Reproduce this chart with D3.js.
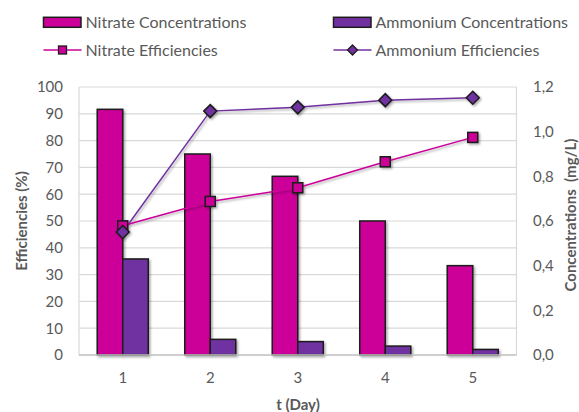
<!DOCTYPE html>
<html><head><meta charset="utf-8">
<script src="https://cdn.jsdelivr.net/npm/d3@7"></script>
<style>body{margin:0;background:#fff}svg{display:block}text{font-family:Lato,"Open Sans",sans-serif}</style>
</head><body>
<svg id="c" width="579" height="412"></svg>
<script>
const days = ["1","2","3","4","5"];
const nitrateConc = [1.10, 0.90, 0.80, 0.60, 0.40];
const ammoniumConc = [0.43, 0.07, 0.06, 0.04, 0.025];
const nitrateEff = [48.2, 57.3, 62.4, 72.1, 81.2];
const ammoniumEff = [45.9, 91.0, 92.4, 95.1, 96.0];
const leftTicks = [0,10,20,30,40,50,60,70,80,90,100];
const rightTicks = [0,0.2,0.4,0.6,0.8,1.0,1.2];

const C_N = "#CC0099", C_A = "#7030A0", TXT = "#595959", GRID = "#d9d9d9", EDGE = "#1c1c1c";
const svg = d3.select("#c");
const defs = svg.append("defs");
const f = defs.append("filter").attr("id","sh").attr("x","-30%").attr("y","-30%").attr("width","160%").attr("height","160%");
f.append("feDropShadow").attr("dx",1.5).attr("dy",1.5).attr("stdDeviation",1.2).attr("flood-color","#000").attr("flood-opacity",0.35);

const L = 79, R = 516.5, T = 87, B = 355;
const x = d3.scaleBand().domain(days).range([L,R]).paddingInner(0.417).paddingOuter(0.2085);
const xs = d3.scaleBand().domain(["n","a"]).range([0, x.bandwidth()]);
const yL = d3.scaleLinear().domain([0,100]).range([B,T]);
const yR = d3.scaleLinear().domain([0,1.2]).range([B,T]);
const loc = d3.formatLocale({decimal:",", thousands:".", grouping:[3], currency:["",""]});
const fR = loc.format(".1f");

// gridlines
svg.append("g").selectAll("line").data(leftTicks.filter(d=>d>0)).join("line")
  .attr("x1",L).attr("x2",R).attr("y1",d=>yL(d)).attr("y2",d=>yL(d))
  .attr("stroke",GRID).attr("stroke-width",1.2);
// plot border
svg.append("line").attr("x1",L).attr("x2",L).attr("y1",T).attr("y2",B).attr("stroke",GRID).attr("stroke-width",1.2);
svg.append("line").attr("x1",R).attr("x2",R).attr("y1",T).attr("y2",B).attr("stroke",GRID).attr("stroke-width",1.2);

// left axis
const gl = svg.append("g").attr("transform",`translate(${L},0)`)
  .call(d3.axisLeft(yL).tickValues(leftTicks).tickSize(0).tickPadding(16));
gl.select(".domain").remove();
gl.selectAll("text").attr("fill",TXT).style("font-size","15px").style("font-family","Lato");
// right axis
const gr = svg.append("g").attr("transform",`translate(${R},0)`)
  .call(d3.axisRight(yR).tickValues(rightTicks).tickFormat(fR).tickSize(0).tickPadding(16.5));
gr.select(".domain").remove();
gr.selectAll("text").attr("fill",TXT).style("font-size","15px").style("font-family","Lato");

// bars
const bars = svg.append("g").attr("filter","url(#sh)");
bars.selectAll("rect.n").data(days).join("rect").attr("class","n")
  .attr("x",d=>x(d)+xs("n")).attr("width",xs.bandwidth())
  .attr("y",(d,i)=>yR(nitrateConc[i])).attr("height",(d,i)=>B-yR(nitrateConc[i]))
  .attr("fill",C_N).attr("stroke",EDGE).attr("stroke-width",1.5);
bars.selectAll("rect.a").data(days).join("rect").attr("class","a")
  .attr("x",d=>x(d)+xs("a")).attr("width",xs.bandwidth())
  .attr("y",(d,i)=>yR(ammoniumConc[i])).attr("height",(d,i)=>B-yR(ammoniumConc[i]))
  .attr("fill",C_A).attr("stroke",EDGE).attr("stroke-width",1.5);

// bottom axis
svg.append("line").attr("x1",L).attr("x2",R).attr("y1",B).attr("y2",B).attr("stroke","#bfbfbf").attr("stroke-width",1.3);
const gb = svg.append("g").attr("transform",`translate(0,${B})`)
  .call(d3.axisBottom(x).tickSize(0).tickPadding(17));
gb.select(".domain").remove();
gb.selectAll("text").attr("fill",TXT).style("font-size","15px").style("font-family","Lato");

// lines
const cx = d => x(d) + x.bandwidth()/2;
const line = d3.line().x(p=>p[0]).y(p=>p[1]);
const gL = svg.append("g").attr("filter","url(#sh)");
gL.append("path").attr("d",line(days.map((d,i)=>[cx(d),yL(ammoniumEff[i])])))
  .attr("fill","none").attr("stroke",C_A).attr("stroke-width",1.5);
gL.append("path").attr("d",line(days.map((d,i)=>[cx(d),yL(nitrateEff[i])])))
  .attr("fill","none").attr("stroke",C_N).attr("stroke-width",1.5);
const sq = 10, dm = 6.5;
gL.selectAll("rect.m").data(days).join("rect").attr("class","m")
  .attr("x",d=>cx(d)-sq/2).attr("y",(d,i)=>yL(nitrateEff[i])-sq/2).attr("width",sq).attr("height",sq)
  .attr("fill",C_N).attr("stroke",EDGE).attr("stroke-width",1.5);
gL.selectAll("path.d").data(days).join("path").attr("class","d")
  .attr("d",(d,i)=>{const X=cx(d),Y=yL(ammoniumEff[i]);return `M${X},${Y-dm}L${X+dm},${Y}L${X},${Y+dm}L${X-dm},${Y}Z`;})
  .attr("fill",C_A).attr("stroke",EDGE).attr("stroke-width",1.5);

// axis titles
svg.append("text").attr("transform","translate(27,221) rotate(-90)").attr("text-anchor","middle")
  .attr("fill",TXT).style("font-size","15px").style("font-weight","bold").text("Efficiencies (%)");
svg.append("text").attr("transform","translate(576,215) rotate(-90)").attr("text-anchor","middle")
  .attr("fill",TXT).style("font-size","15px").style("font-weight","bold").style("white-space","pre").text("Concentrations  (mg/L)");
svg.append("text").attr("x",298).attr("y",410).attr("text-anchor","middle")
  .attr("fill",TXT).style("font-size","15px").style("font-weight","bold").text("t (Day)");

// legend
const leg = [
  {t:"Nitrate Concentrations", x:43.5, y:22.3, type:"bar", c:C_N},
  {t:"Ammonium Concentrations", x:333.5, y:22.3, type:"bar", c:C_A},
  {t:"Nitrate Efficiencies", x:43.5, y:50, type:"sq", c:C_N},
  {t:"Ammonium Efficiencies", x:333.5, y:50, type:"dm", c:C_A}
];
const lg = svg.append("g");
leg.forEach(o=>{
  if(o.type==="bar"){
    lg.append("rect").attr("x",o.x).attr("y",o.y-5).attr("width",37.5).attr("height",10)
      .attr("fill",o.c).attr("stroke",EDGE).attr("stroke-width",1.5);
  } else {
    lg.append("line").attr("x1",o.x).attr("x2",o.x+38).attr("y1",o.y).attr("y2",o.y).attr("stroke",o.c).attr("stroke-width",1.5);
    const X=o.x+19;
    if(o.type==="sq") lg.append("rect").attr("x",X-4).attr("y",o.y-4).attr("width",8).attr("height",8).attr("fill",o.c).attr("stroke",EDGE).attr("stroke-width",1.3);
    else lg.append("path").attr("d",`M${X},${o.y-5}L${X+5},${o.y}L${X},${o.y+5}L${X-5},${o.y}Z`).attr("fill",o.c).attr("stroke",EDGE).attr("stroke-width",1.3);
  }
  lg.append("text").attr("x",o.x+42).attr("y",o.y+5.6).attr("fill",TXT).style("font-size","16px").text(o.t);
});
</script>
</body></html>
